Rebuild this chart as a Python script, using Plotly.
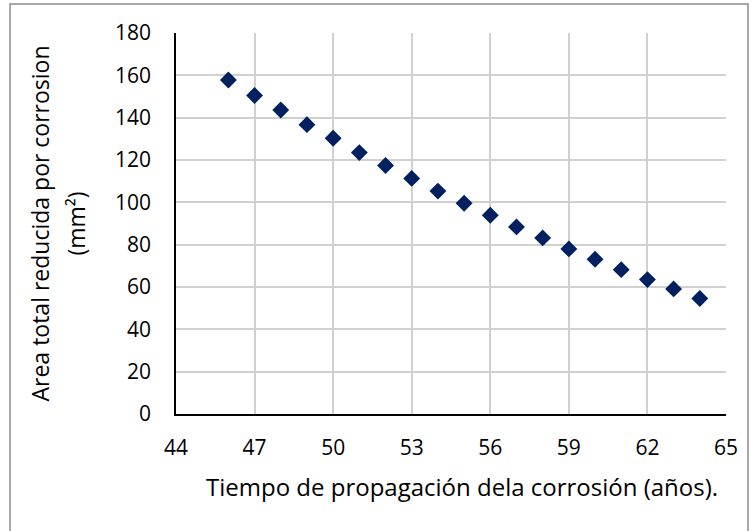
import plotly.graph_objects as go

# Corrosion propagation time (years) and total reduced area (mm²)
years = [46, 47, 48, 49, 50, 51, 52, 53, 54, 55, 56, 57, 58, 59, 60, 61, 62, 63, 64]
area_reduced = [157.8, 150.5, 143.6, 136.7, 130.3, 123.5, 117.4, 111.3, 105.3, 99.6,
                93.9, 88.4, 83.2, 78.0, 73.1, 68.2, 63.5, 59.1, 54.6]

x_ticks = [44, 47, 50, 53, 56, 59, 62, 65]
y_ticks = [0, 20, 40, 60, 80, 100, 120, 140, 160, 180]

FONT = "Open Sans, Lato, sans-serif"

fig = go.Figure()
fig.add_trace(go.Scatter(
    x=years, y=area_reduced, mode="markers",
    marker=dict(symbol="diamond", size=13, color="#002060"),
    showlegend=False,
))

fig.update_layout(
    width=753, height=531,
    margin=dict(l=176, r=27, t=33, b=117),
    paper_bgcolor="white", plot_bgcolor="white",
    font=dict(family=FONT, size=21, color="#000000"),
    xaxis=dict(
        range=[44, 65], tickvals=x_ticks, showgrid=True,
        gridcolor="#d0d0d0", gridwidth=1.5,
        showline=True, linecolor="#000000", linewidth=1.5,
        zeroline=False, ticks="", ticklabelstandoff=14,
        tickfont=dict(size=21),
    ),
    yaxis=dict(
        range=[0, 180], tickvals=y_ticks, showgrid=True,
        gridcolor="#d0d0d0", gridwidth=1.5,
        showline=True, linecolor="#000000", linewidth=1.5,
        zeroline=False, ticks="", ticklabelstandoff=19,
        tickfont=dict(size=21),
    ),
    shapes=[dict(
        type="rect", xref="paper", yref="paper",
        x0=-0.3018, x1=1.04, y0=-0.33, y1=1.0761,
        line=dict(color="#8c8c8c", width=1.5), fillcolor="rgba(0,0,0,0)",
        layer="below",
    )],
    annotations=[
        dict(
            text="Tiempo de propagación dela corrosión (años).",
            xref="paper", yref="paper", x=0.52, y=-0.1916,
            showarrow=False, font=dict(size=24, family=FONT),
            xanchor="center", yanchor="middle",
        ),
        dict(
            text="Area total reducida por corrosion",
            xref="paper", yref="paper", x=-0.2473, y=0.5,
            showarrow=False, textangle=-90, font=dict(size=23, family=FONT),
            xanchor="center", yanchor="middle",
        ),
        dict(
            text="(mm²)",
            xref="paper", yref="paper", x=-0.1836, y=0.5,
            showarrow=False, textangle=-90, font=dict(size=23, family=FONT),
            xanchor="center", yanchor="middle",
        ),
    ],
)

fig.write_html("out.html")
